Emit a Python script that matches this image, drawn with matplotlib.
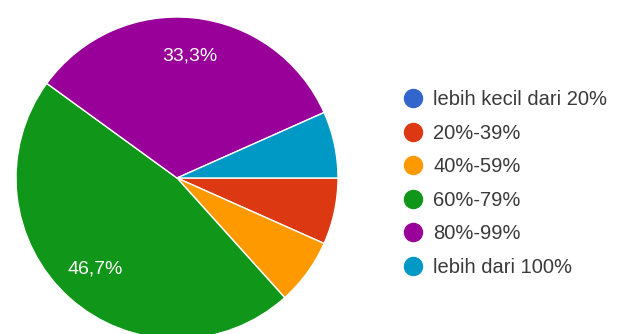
import matplotlib
matplotlib.use("Agg")
import matplotlib.pyplot as plt
from matplotlib.lines import Line2D

# jawaban responden per kategori
categories = ["lebih kecil dari 20%", "20%-39%", "40%-59%", "60%-79%", "80%-99%", "lebih dari 100%"]
counts = [0, 1, 1, 7, 5, 1]
colors = ["#3366cc", "#dc3912", "#ff9900", "#109618", "#990099", "#0099c6"]

plt.rcParams['font.family'] = ['Liberation Sans', 'DejaVu Sans']

fig = plt.figure(figsize=(6.38, 3.34), dpi=100)
W, H = 638, 334
cx, cy, r = 177, 178, 161
ax = fig.add_axes([(cx - r) / W, (H - cy - r) / H, 2 * r / W, 2 * r / H])


def pct_label(p):
    # only big slices get a label, comma as decimal separator
    if p < 10:
        return ""
    return f"{p:.1f}%".replace(".", ",")


wedges, texts, autotexts = ax.pie(
    counts, colors=colors, startangle=0, counterclock=False,
    autopct=pct_label, pctdistance=0.76, radius=1.0,
    wedgeprops=dict(edgecolor="white", linewidth=1.0),
    textprops=dict(color="white", fontsize=14),
)
ax.set_xlim(-1, 1)
ax.set_ylim(-1, 1)
ax.set_aspect("equal")
ax.axis("off")

handles = [Line2D([0], [0], marker="o", linestyle="", markersize=13,
                  markerfacecolor=c, markeredgecolor=c) for c in colors]
fig.legend(handles, categories, loc="upper left",
           bbox_to_anchor=(385 / W, 1 - 72 / H), frameon=False,
           fontsize=14.5, labelspacing=0.72, handletextpad=0.5,
           handlelength=1.0, labelcolor="#3a3a3a")

fig.savefig("out.png", dpi=100)
